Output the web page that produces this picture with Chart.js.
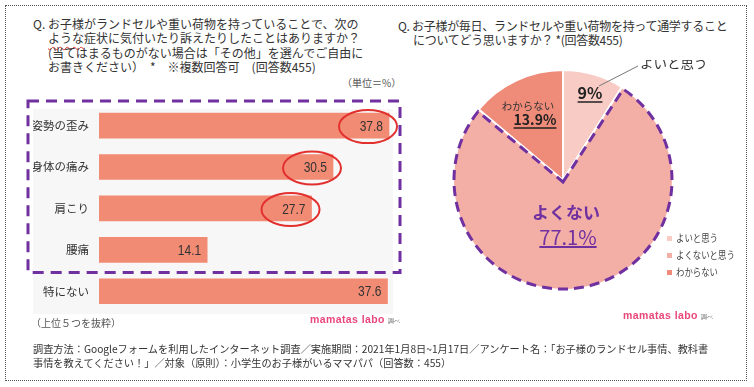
<!DOCTYPE html>
<html lang="ja">
<head>
<meta charset="UTF-8">
<title>ランドセル調査</title>
<script src="https://cdn.jsdelivr.net/npm/chart.js"></script>
<style>
  body { margin:0; width:754px; height:387px; position:relative; background:#fff; overflow:hidden;
         font-family:"Noto Sans CJK JP", sans-serif; color:#333; }
  .abs { position:absolute; white-space:nowrap; }
  .frame { left:5px; top:5px; width:740px; height:374px; border:1px dotted #555; }
  .title { font-size:12px; line-height:14.3px; padding-left:15px; text-indent:-15px; color:#333; }
  .squig { text-decoration:underline wavy #e03030; text-decoration-thickness:1px; text-underline-offset:3px; }
  .note { font-size:10px; color:#555; }
  .labo { font-family:"Liberation Sans", Arial, sans-serif; font-weight:bold; font-size:10.5px; color:#E9477B; letter-spacing:0.4px; }
  .labo small { font-size:6px; color:#555; font-weight:normal; margin-left:3px; }
  .foot { font-size:10.2px; line-height:13.5px; color:#333; }
  .legend div { height:17px; line-height:17px; font-size:10.5px; color:#444; }
  .legend span.sw { display:inline-block; width:5px; height:5px; margin-right:4px; vertical-align:middle; position:relative; top:-1px; }
  .legend span.tx { display:inline-block; transform:scaleX(0.8); transform-origin:left center; }
</style>
</head>
<body>
<div class="abs frame"></div>

<div class="abs title" style="left:33px; top:17px;">
  Q. お子様がランドセルや重い荷物を持っていることで、次の<br>
  <span class="squig">ような</span>症状に気付いたり訴えたりしたことはありますか？<br>
  (当てはまるものがない場合は「その他」を選んでご自由に<br>
  お書きください）　*　※複数回答可　(回答数455)
</div>
<div class="abs note" style="left:342px; top:75px;">（単位＝%）</div>

<div class="abs title" style="left:398px; top:19px; letter-spacing:-0.3px; line-height:13.5px;">
  Q. お子様が毎日、ランドセルや重い荷物を持って通学すること<br>
  についてどう思いますか？ *(回答数455)
</div>

<canvas id="bars" class="abs" style="left:20px; top:88px;" width="385" height="245"></canvas>
<canvas id="pie" class="abs" style="left:443px; top:60px;" width="280" height="240"></canvas>

<div id="legend" class="abs legend" style="left:667px; top:229px;"></div>

<div class="abs note" style="left:31px; top:315px;">（上位５つを抜粋）</div>
<div class="abs labo" style="left:310px; top:313px;">mamatas labo<small>調べ</small></div>
<div class="abs labo" style="left:623px; top:309px;">mamatas labo<small>調べ</small></div>

<div class="abs foot" style="left:33px; top:342px;">
  調査方法：Googleフォームを利用したインターネット調査／実施期間：2021年1月8日~1月17日／アンケート名：「お子様のランドセル事情、教科書<br>
  事情を教えてください！」／対象（原則）：小学生のお子様がいるママパパ（回答数：455）
</div>

<script>
  // left chart: symptoms noticed (%)
  const barLabels = ['姿勢の歪み', '身体の痛み', '肩こり', '腰痛', '特にない'];
  const barValues = [37.8, 30.5, 27.7, 14.1, 37.6];
  const circled = [0, 1, 2];     // values ringed in red
  const boxedCount = 4;          // rows inside the purple dashed box

  // right chart: opinion about carrying heavy bags
  const pieLabels = ['よいと思う', 'よくないと思う', 'わからない'];
  const pieValues = [9, 77.1, 13.9];
  const pieColors = ['#F8CBC5', '#F3AEA6', '#EF8B79'];

  const purple = '#7030A0';

  const barDecor = {
    id: 'barDecor',
    beforeDraw(chart) {
      const { ctx, chartArea: a } = chart;
      ctx.save();
      ctx.fillStyle = '#F7F7F7';
      ctx.fillRect(a.left - 66, a.top + 4, a.right - a.left + 66, a.bottom - a.top - 2);
      ctx.restore();
    },
    afterDatasetsDraw(chart) {
      const { ctx, chartArea: a } = chart;
      const bars = chart.getDatasetMeta(0).data;
      ctx.save();
      // values at bar ends, narrow like the original
      ctx.font = '15px "Liberation Sans", Arial, sans-serif';
      ctx.fillStyle = '#333';
      ctx.textAlign = 'right';
      ctx.textBaseline = 'middle';
      bars.forEach((b, i) => {
        ctx.save();
        ctx.translate(b.x - 6, b.y + 1);
        ctx.scale(0.8, 1);
        ctx.fillText(barValues[i].toFixed(1), 0, 0);
        ctx.restore();
      });
      // red rings
      ctx.strokeStyle = '#E2302E';
      ctx.lineWidth = 2;
      circled.forEach(i => {
        const b = bars[i];
        ctx.beginPath();
        ctx.ellipse(b.x - 21, b.y + 1, 29, 16.5, 0, 0, Math.PI * 2);
        ctx.stroke();
      });
      // purple dashed box around the top rows
      const yScale = chart.scales.y;
      const bottom = yScale.getPixelForValue(boxedCount - 0.5) + 2;
      ctx.strokeStyle = purple;
      ctx.lineWidth = 3;
      ctx.setLineDash([11, 7]);
      ctx.strokeRect(a.left - 71, a.top - 4, a.right - a.left + 78, bottom - a.top + 4);
      ctx.restore();
    }
  };

  new Chart(document.getElementById('bars'), {
    type: 'bar',
    data: {
      labels: barLabels,
      datasets: [{ data: barValues, backgroundColor: '#F28B73', barThickness: 25 }]
    },
    options: {
      indexAxis: 'y',
      responsive: false,
      animation: false,
      layout: { padding: { left: 13, top: 10, right: 12, bottom: 21 } },
      plugins: { legend: { display: false }, tooltip: { enabled: false } },
      scales: {
        x: { display: false, min: 0, max: 38.32 },
        y: {
          grid: { display: false, drawTicks: false },
          border: { display: false },
          ticks: { color: '#333', padding: 10, font: { size: 11.5, family: '"Noto Sans CJK JP"' } },
          afterFit(s) { s.width = 66; }
        }
      }
    },
    plugins: [barDecor]
  });

  function label(ctx, text, x, y, font, color, underline, lw) {
    ctx.font = font;
    ctx.fillStyle = color;
    ctx.textAlign = 'center';
    ctx.textBaseline = 'middle';
    ctx.fillText(text, x, y);
    if (underline) {
      const w = ctx.measureText(text).width;
      ctx.strokeStyle = color;
      ctx.lineWidth = lw;
      ctx.beginPath();
      ctx.moveTo(x - w / 2, y + underline);
      ctx.lineTo(x + w / 2, y + underline);
      ctx.stroke();
    }
  }

  const pieDecor = {
    id: 'pieDecor',
    afterDatasetsDraw(chart) {
      const { ctx } = chart;
      const arcs = chart.getDatasetMeta(0).data;
      const big = arcs[1];
      const cx = big.x, cy = big.y;
      ctx.save();
      // dashed outline on the "よくない" slice
      ctx.strokeStyle = purple;
      ctx.lineWidth = 3;
      ctx.setLineDash([10, 6]);
      ctx.beginPath();
      ctx.moveTo(cx, cy + 2);
      ctx.arc(cx, cy, big.outerRadius - 1, big.startAngle + 0.02, big.endAngle - 0.02);
      ctx.closePath();
      ctx.stroke();
      ctx.setLineDash([]);

      const jp = '"Noto Sans CJK JP", sans-serif';
      // 9% with leader
      label(ctx, pieValues[0] + '%', cx + 27, cy - 87, 'bold 16px ' + jp, '#222', 9, 1.5);
      ctx.strokeStyle = '#777';
      ctx.lineWidth = 1;
      ctx.beginPath();
      ctx.moveTo(cx + 36, cy - 94);
      ctx.lineTo(cx + 75, cy - 114);
      ctx.stroke();
      ctx.font = '13.5px ' + jp;
      ctx.fillStyle = '#333';
      ctx.textAlign = 'left';
      ctx.fillText(pieLabels[0], cx + 77, cy - 117);

      // わからない
      label(ctx, pieLabels[2], cx - 35, cy - 74, '10.5px ' + jp, '#333', 0, 0);
      label(ctx, pieValues[2] + '%', cx - 28, cy - 60, 'bold 14px ' + jp, '#222', 8, 1.5);

      // よくない
      label(ctx, 'よくない', cx + 3, cy + 33, 'bold 17px ' + jp, purple, 0, 0);
      label(ctx, pieValues[1] + '%', cx + 5, cy + 57, '20px ' + jp, purple, 10, 2);
      ctx.restore();
    }
  };

  new Chart(document.getElementById('pie'), {
    type: 'pie',
    data: {
      labels: pieLabels,
      datasets: [{ data: pieValues, backgroundColor: pieColors, borderColor: '#fff', borderWidth: 2 }]
    },
    options: {
      responsive: false,
      animation: false,
      layout: { padding: { left: 9, top: 9, bottom: 9, right: 49 } },
      plugins: { legend: { display: false }, tooltip: { enabled: false } }
    },
    plugins: [pieDecor]
  });

  // small legend beside the pie
  const legend = document.getElementById('legend');
  pieLabels.forEach((name, i) => {
    const row = document.createElement('div');
    row.innerHTML = `<span class="sw" style="background:${pieColors[i]}"></span><span class="tx">${name}</span>`;
    legend.appendChild(row);
  });
</script>
</body>
</html>
